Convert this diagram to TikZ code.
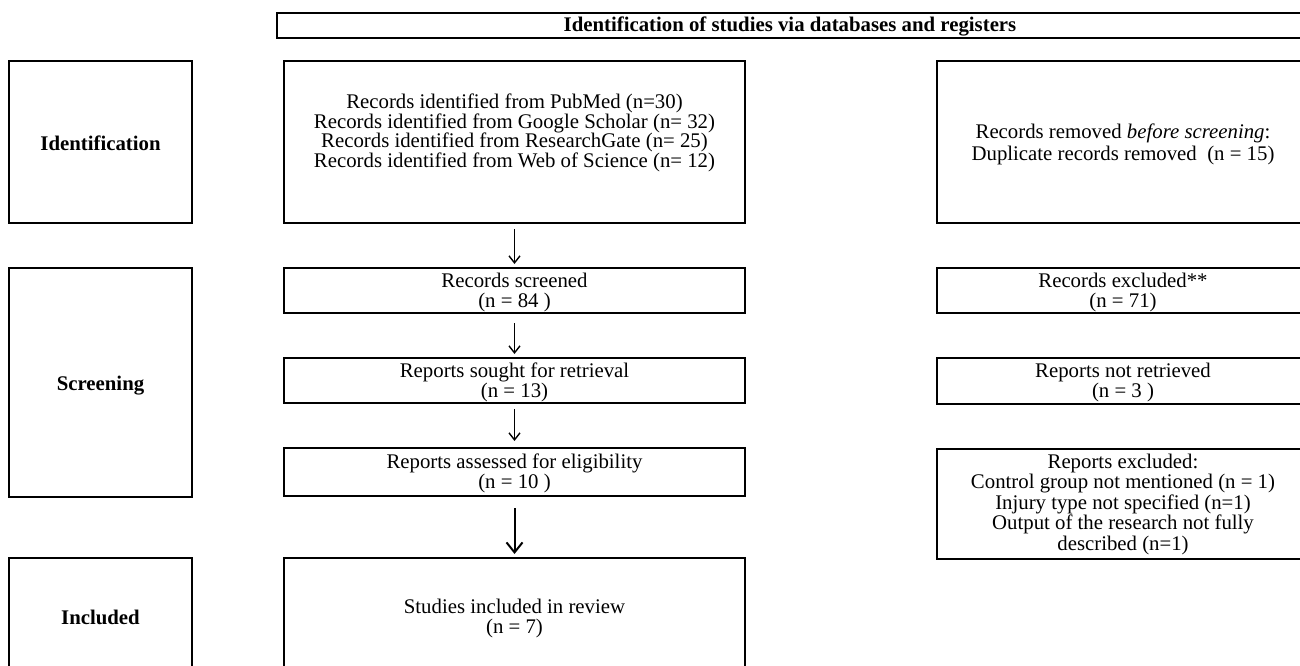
\documentclass[tikz,border=0pt]{standalone}
\usepackage{fontspec}
\setmainfont{Liberation Serif}
\usetikzlibrary{fit,arrows.meta}
% lines separated by \cr, fixed baseline pitch, baseline of the block = first line
\newcommand{\rowsat}[2]{\vtop{\baselineskip=#1\lineskiplimit=-30pt\lineskip=0pt
  \halign{\hfil##\hfil\cr#2\crcr}}}
\begin{document}
\begin{tikzpicture}[x=1pt,y=-1pt,
  box/.style={draw, line width=2pt, inner sep=0pt},
  txt/.style={inner sep=0pt, anchor=base, font=\fontsize{20.8}{21.5}\selectfont},
  btxt/.style={txt, font=\fontsize{20.8}{21.5}\selectfont\bfseries},
  flow/.style={-{Straight Barb[length=7pt,width=11pt]}, line width=1.4pt},
  bigflow/.style={-{Straight Barb[length=10pt,width=16pt]}, line width=2pt}]
\useasboundingbox (0,0) rectangle (1300,666);

% header
\node[box, fit={(277,13) (1303,38)}] (head) {};
\node[btxt] (headt) at (790,32) {Identification of studies via databases and registers};

% phase labels
\node[box, fit={(9,61) (192,223)}] (idlab) {};
\node[btxt] (idlabt) at (100.5,150) {Identification};
\node[box, fit={(9,268) (192,497)}] (scrlab) {};
\node[btxt] (scrlabt) at (100.5,390) {Screening};
\node[box, fit={(9,558) (192,676)}] (inclab) {};
\node[btxt] (inclabt) at (100.5,624) {Included};

% main column
\node[box, fit={(284,61) (745,223)}] (recid) {};
\node[txt] (recidt) at (514.5,109) {\rowsat{19.5pt}{Records identified from PubMed (n=30)\cr
Records identified from Google Scholar (n= 32)\cr
Records identified from ResearchGate (n= 25)\cr
Records identified from Web of Science (n= 12)}};

\node[box, fit={(284,268) (745,313)}] (rscr) {};
\node[txt] (rscrt) at (514.5,287) {\rowsat{20.5pt}{Records screened\cr(n = 84 )}};

\node[box, fit={(284,358) (745,403)}] (rsought) {};
\node[txt] (rsoughtt) at (514.5,377) {\rowsat{20.5pt}{Reports sought for retrieval\cr(n = 13)}};

\node[box, fit={(284,448) (745,496)}] (rass) {};
\node[txt] (rasst) at (514.5,468) {\rowsat{20.5pt}{Reports assessed for eligibility\cr(n = 10 )}};

\node[box, fit={(284,558) (745,676)}] (stud) {};
\node[txt] (studt) at (514.5,613) {\rowsat{20.5pt}{Studies included in review\cr(n = 7)}};

% right column
\node[box, fit={(937,61) (1309,223)}] (recrem) {};
\node[txt] (recremt) at (1123,139) {\rowsat{21pt}{Records removed \textit{before screening}:\cr Duplicate records removed\ \ (n = 15)}};

\node[box, fit={(937,268) (1309,313)}] (rexc) {};
\node[txt] (rexct) at (1123,287) {\rowsat{20.5pt}{Records excluded**\cr(n = 71)}};

\node[box, fit={(937,358) (1309,404)}] (rnot) {};
\node[txt] (rnott) at (1123,377) {\rowsat{20.5pt}{Reports not retrieved\cr(n = 3 )}};

\node[box, fit={(937,449) (1309,559)}] (rexcl) {};
\node[txt] (rexclt) at (1123,468) {\rowsat{20.5pt}{Reports excluded:\cr Control group not mentioned (n = 1)\cr Injury type not specified (n=1)\cr Output of the research not fully\cr described (n=1)}};

% arrows
\draw[flow, shorten <=5pt, shorten >=3pt] (recid.south) -- (rscr.north);
\draw[flow, shorten <=9pt, shorten >=3pt] (rscr.south) -- (rsought.north);
\draw[flow, shorten <=5pt, shorten >=6pt] (rsought.south) -- (rass.north);
\draw[bigflow, shorten <=11pt, shorten >=3pt] (rass.south) -- (stud.north);
\end{tikzpicture}
\end{document}
